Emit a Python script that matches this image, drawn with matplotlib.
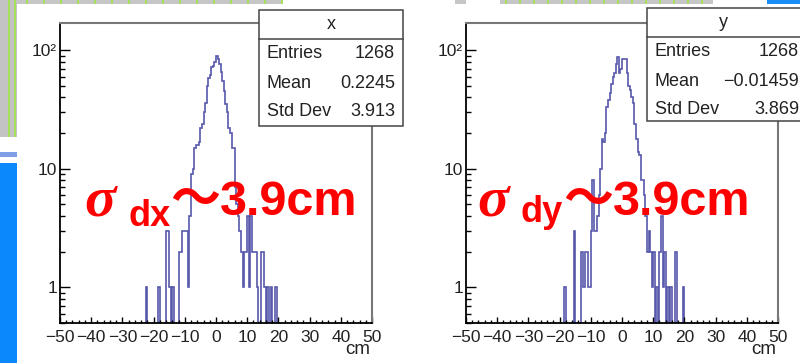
import numpy as np
import matplotlib
matplotlib.use("Agg")
import matplotlib.pyplot as plt
from matplotlib.patches import Rectangle
from matplotlib.lines import Line2D
from matplotlib.ticker import FixedLocator, MultipleLocator, NullFormatter, FuncFormatter

W, H = 800, 363
SANS = ["Liberation Sans", "DejaVu Sans"]

# 0.5 cm bins: lower edge of every non-empty bin and its content
dx_lo = [-22.5, -18.5, -16.0, -15.5, -15.0, -14.0, -12.0, -11.5, -11.0, -10.5, -10.0, -9.5, -9.0,
         -8.5, -8.0, -7.5, -7.0, -6.5, -6.0, -5.5, -5.0, -4.5, -4.0, -3.5, -3.0, -2.5, -2.0,
         -1.5, -1.0, -0.5, 0.0, 0.5, 1.0, 1.5, 2.0, 2.5, 3.0, 3.5, 4.0, 4.5, 5.0, 5.5, 6.0,
         6.5, 7.0, 7.5, 8.0, 8.5, 9.0, 9.5, 10.0, 10.5, 11.0, 11.5, 12.0, 12.5, 13.0, 14.5,
         15.0, 15.5, 16.5, 17.5, 19.0]
dx_counts = [1, 1, 3, 3, 1, 1, 2, 2, 3, 3, 3, 3, 1,
             4, 9, 10, 15, 16, 16, 17, 22, 24, 30, 36, 50, 58, 62,
             72, 74, 80, 90, 84, 76, 66, 55, 45, 35, 30, 22, 20, 15, 15, 7,
             5, 4, 3, 2, 1, 2, 2, 4, 1, 4, 2, 2, 2, 1, 2,
             2, 1, 1, 1, 1]

dy_lo = [-18.5, -15.5, -13.0, -12.5, -12.0, -11.5, -11.0, -10.5, -10.0, -9.5, -9.0, -8.5, -8.0,
         -7.5, -7.0, -6.5, -6.0, -5.5, -5.0, -4.5, -4.0, -3.5, -3.0, -2.5, -2.0, -1.5, -1.0,
         -0.5, 0.0, 0.5, 1.0, 1.5, 2.0, 2.5, 3.0, 3.5, 4.0, 4.5, 5.0, 5.5, 6.0, 6.5, 7.0,
         7.5, 8.0, 8.5, 9.0, 9.5, 10.0, 11.0, 12.0, 12.5, 13.0, 13.5, 14.5, 15.5, 17.0, 19.5]
dy_counts = [1, 3, 2, 1, 2, 2, 1, 1, 3, 8, 3, 3, 4,
             6, 10, 18, 17, 20, 33, 38, 44, 52, 60, 64, 76, 88, 64,
             70, 84, 84, 84, 64, 50, 46, 40, 36, 24, 18, 14, 13, 8, 8, 6,
             4, 2, 3, 2, 1, 2, 1, 2, 4, 1, 2, 1, 1, 2, 1]

x_stats = [("Entries", "1268"), ("Mean", "0.2245"), ("Std Dev", "3.913")]
y_stats = [("Entries", "1268"), ("Mean", "\u22120.01459"), ("Std Dev", "3.869")]

x_ticks = list(range(-50, 51, 10))
y_tick_text = {1: "1", 10: "10", 100: "10\u00b2"}


def fx(x):
    return x / W


def fy(y):
    return 1 - y / H


def full_hist(lo, counts):
    edges = np.linspace(-50, 50, 201)
    h = np.zeros(200)
    idx = np.round((np.array(lo) + 50) / 0.5).astype(int)
    h[idx] = counts
    return edges, h


def draw_panel(fig, box, lo, counts):
    l, t, r, b = box
    ax = fig.add_axes([fx(l), fy(b), fx(r - l), (b - t) / H], zorder=1)
    ax.set_facecolor("none")
    edges, h = full_hist(lo, counts)
    ax.stairs(np.where(h > 0, h, 0.05), edges, baseline=None, color="#5858ac", lw=1.2)
    ax.set_yscale("log")
    ax.set_xlim(-50, 50)
    ax.set_ylim(0.5, 170)
    ax.xaxis.set_major_locator(FixedLocator(x_ticks))
    ax.xaxis.set_minor_locator(MultipleLocator(2))
    ax.set_xticklabels([str(v).replace("-", "\u2212") for v in x_ticks],
                       fontsize=12.5, family=SANS, color="#222222")
    ax.yaxis.set_major_locator(FixedLocator([1, 10, 100]))
    ax.yaxis.set_major_formatter(FuncFormatter(lambda v, p: y_tick_text.get(int(round(v)), "")))
    ax.yaxis.set_minor_formatter(NullFormatter())
    for lab in ax.get_yticklabels():
        lab.set_family(SANS)
    ax.tick_params(axis="y", which="major", direction="in", length=7, width=1, labelsize=12.5,
                   pad=2, labelcolor="#222222")
    ax.tick_params(axis="y", which="minor", direction="in", length=3.5, width=1)
    ax.tick_params(axis="x", which="major", direction="in", length=4, width=1, pad=5)
    ax.tick_params(axis="x", which="minor", direction="in", length=2, width=1)
    for s in ("left", "bottom"):
        ax.spines[s].set_color("black")
        ax.spines[s].set_linewidth(1.3)
    for s in ("top", "right"):
        ax.spines[s].set_color("#777777")
        ax.spines[s].set_linewidth(1.5)
    fig.text(fx(r - 2), fy(350), "cm", ha="right", va="center", fontsize=13.5,
             family=SANS, color="#222222")
    return ax


def stats_box(fig, l, t, r, b, sep, title, rows, row_y, lx, rx):
    fig.add_artist(Rectangle((fx(l), fy(b)), fx(r - l), (b - t) / H, transform=fig.transFigure,
                             facecolor="white", edgecolor="#444444", lw=1.1, zorder=5))
    fig.add_artist(Line2D([fx(l), fx(r)], [fy(sep), fy(sep)], transform=fig.transFigure,
                          color="#444444", lw=1.1, zorder=6))
    fig.text(fx((l + min(r, W)) / 2), fy((t + sep) / 2), title, ha="center", va="center",
             fontsize=13, family=SANS, color="#222222", zorder=7)
    for (name, val), y in zip(rows, row_y):
        fig.text(fx(lx), fy(y), name, ha="left", va="center", fontsize=13, family=SANS,
                 color="#222222", zorder=7)
        fig.text(fx(rx), fy(y), val, ha="right", va="center", fontsize=13, family=SANS,
                 color="#222222", zorder=7)


def sigma_label(fig, x0, sub, sub_x, tilde_x, num_x, base_y, sub_base):
    red = "#ff0000"
    fig.text(fx(x0), fy(base_y), "\u03c3", fontsize=42, family="Liberation Serif",
             style="italic", weight="bold", color=red, va="baseline", zorder=8)
    fig.text(fx(sub_x), fy(sub_base), sub, fontsize=26, family=SANS, weight="bold",
             color=red, va="baseline", zorder=8)
    fig.text(fx(tilde_x), fy(base_y), "\uff5e", fontsize=36, family="Noto Sans CJK JP",
             weight="bold", color=red, va="baseline", zorder=8)
    fig.text(fx(num_x), fy(base_y), "3.9cm", fontsize=35, family=SANS, weight="bold",
             color=red, va="baseline", zorder=8)


fig = plt.figure(figsize=(W / 100, H / 100), dpi=100)
fig.patch.set_facecolor("white")

# slide background pieces around the two canvases
bg = [(0, 0, 17, 137, "#c3c3c3"), (0, 152, 17, 157, "#7f9fe6"), (0, 163, 17, 363, "#0a88fc"),
      (17, 0, 283, 4, "#c6c6c6"), (455, 0, 466, 4, "#c6c6c6"), (500, 0, 713, 4, "#c6c6c6"),
      (767, 0, 800, 4, "#1a8cf8")]
for l, t, r, b, c in bg:
    fig.add_artist(Rectangle((fx(l), fy(b)), fx(r - l), (b - t) / H, transform=fig.transFigure,
                             facecolor=c, edgecolor="none", zorder=0))
for gx in (8, 14) + tuple(range(26, 283, 17)) + tuple(range(505, 713, 14)):
    hgt = 137 if gx < 17 else 4
    fig.add_artist(Rectangle((fx(gx), fy(hgt)), fx(2), hgt / H, transform=fig.transFigure,
                             facecolor="#a6e05a", edgecolor="none", zorder=0))

draw_panel(fig, (60, 23, 372, 323), dx_lo, dx_counts)
draw_panel(fig, (466, 23, 778, 323), dy_lo, dy_counts)

stats_box(fig, 259, 10, 403, 126, 39, "x", x_stats, [54, 84, 112], 267, 395)
stats_box(fig, 647, 8, 812, 121, 37, "y", y_stats, [51, 81, 109], 655, 799)

sigma_label(fig, 84, "dx", 128, 170, 220, 215, 226)
sigma_label(fig, 477, "dy", 521, 563, 613, 215, 222)

fig.savefig("out.png", dpi=100)
